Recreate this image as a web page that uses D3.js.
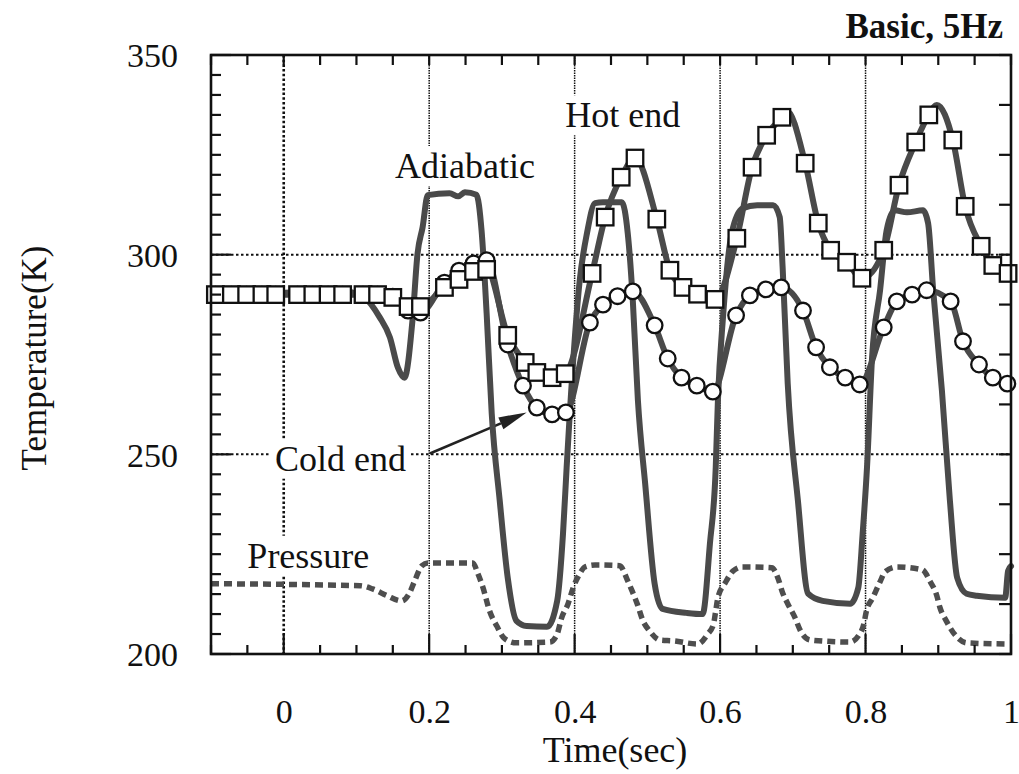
<!DOCTYPE html>
<html><head><meta charset="utf-8">
<script src="https://cdn.jsdelivr.net/npm/d3@7"></script>
<style>
body{margin:0;background:#fff}
svg{display:block}
text{font-family:"Liberation Serif","Times New Roman",serif;fill:#111}
</style>
</head><body>
<svg id="c" width="1019" height="774"></svg>
<script>
// ---------- data ----------
const xTicks = [0, 0.2, 0.4, 0.6, 0.8, 1];
const yTicks = [200, 250, 300, 350];
const xGrid = [0, 0.2, 0.4, 0.6, 0.8];
const yGrid = [250, 300];

const adiabaticT = [-0.1,-0.047,0.022,0.04,0.07,0.098,0.109,0.132,0.146,0.157,0.166,0.177,0.184,0.191,0.198,0.228,0.240,0.249,0.265,0.272,0.279,0.286,0.297,0.308,0.320,0.334,0.362,0.376,0.384,0.389,0.393,0.407,0.417,0.428,0.439,0.465,0.473,0.480,0.487,0.497,0.510,0.521,0.554,0.576,0.586,0.594,0.597,0.604,0.616,0.631,0.651,0.673,0.682,0.686,0.693,0.707,0.721,0.741,0.779,0.790,0.796,0.802,0.809,0.820,0.829,0.840,0.857,0.879,0.886,0.893,0.905,0.916,0.926,0.939,0.953,0.992,0.996,1.0];
const adiabaticV = [290.3,290.3,290.6,291.4,291.4,290.3,289.6,284.3,279.3,271.7,269.2,283.5,300.3,306.9,314.9,315.4,314.6,315.6,315.0,306.1,285.3,260.2,238.4,219.1,208.3,207.0,206.8,213.3,230.1,246.7,259.2,293.6,305.4,312.9,313.1,313.1,305.4,288.5,263.5,242.6,217.6,211.3,210.3,210.0,227.6,246.7,263.5,284.3,305.4,311.6,312.4,312.4,309.4,296.8,267.7,238.4,215.1,213.3,212.6,216.6,230.1,246.7,274.3,291.1,306.1,311.1,310.6,311.1,307.9,291.1,266.0,238.4,219.1,215.1,214.6,214.1,220.8,222.0];

const hotT = [-0.094,-0.072,-0.051,-0.030,-0.011,0.019,0.040,0.061,0.081,0.109,0.129,0.150,0.171,0.188,0.221,0.241,0.261,0.279,0.308,0.332,0.348,0.369,0.387,0.424,0.442,0.464,0.483,0.513,0.531,0.549,0.569,0.593,0.623,0.644,0.664,0.685,0.717,0.735,0.752,0.774,0.795,0.825,0.846,0.869,0.887,0.920,0.937,0.959,0.975,0.996];
const hotV = [290,290,290,290,290,290,290,290,290,290,290,289.3,287.0,287.0,291.8,293.8,295.8,296.3,279.8,273.0,270.5,269.2,270.2,295.3,309.4,319.4,324.2,308.9,296.1,291.8,290.1,288.8,304.1,321.9,329.9,334.4,322.9,307.9,301.1,298.1,294.1,301.1,317.4,328.2,335.0,328.7,312.1,302.1,297.3,295.3];
// extra line-only points of the hot end curve (peaks, ends)
const hotLineT = [-0.1, 0.692, 0.898, 1.0];
const hotLineV = [290, 336.0, 337.5, 295.0];

const coldT = [-0.094,-0.072,-0.051,-0.030,-0.011,0.019,0.040,0.061,0.081,0.109,0.129,0.150,0.171,0.188,0.221,0.241,0.261,0.279,0.308,0.329,0.348,0.369,0.388,0.421,0.439,0.459,0.480,0.510,0.528,0.547,0.568,0.590,0.622,0.641,0.663,0.684,0.714,0.732,0.751,0.772,0.792,0.825,0.843,0.864,0.884,0.917,0.934,0.956,0.975,0.995];
const coldV = [290,290,290,290,290,290,290,290,290,290,290,289.5,286.0,285.5,293.0,296.0,297.8,298.6,277.5,267.2,261.7,260.0,260.5,283.0,287.5,289.6,290.8,282.3,274.0,269.2,267.2,265.7,284.8,289.8,291.3,291.8,286.0,276.8,271.8,269.2,267.5,281.8,288.3,290.0,291.1,288.3,278.3,272.5,269.2,267.7];
const coldLineT = [-0.1, 1.0];
const coldLineV = [290, 267.5];

const pressT = [-0.1,0.105,0.122,0.142,0.162,0.173,0.180,0.190,0.198,0.260,0.267,0.274,0.283,0.293,0.304,0.320,0.366,0.376,0.382,0.391,0.398,0.407,0.414,0.428,0.462,0.473,0.479,0.486,0.494,0.503,0.517,0.535,0.569,0.583,0.591,0.594,0.597,0.607,0.618,0.631,0.671,0.680,0.686,0.693,0.703,0.710,0.724,0.779,0.790,0.798,0.801,0.810,0.820,0.827,0.843,0.878,0.889,0.898,0.902,0.911,0.923,0.939,0.995];
const pressV = [217.6,217.1,216.3,214.6,213.3,215.3,218.3,222.1,222.8,222.8,220.1,216.6,210.8,207.0,203.8,202.8,203.0,205.0,209.0,212.6,216.6,220.1,221.8,222.3,222.1,218.3,215.8,212.6,208.3,205.8,203.5,203.3,202.5,205.0,207.5,210.8,214.1,217.8,220.8,221.8,221.6,218.8,215.3,212.6,209.1,206.0,203.5,203.0,204.5,207.8,210.6,214.1,218.1,220.6,221.8,221.1,218.1,214.6,211.8,208.3,204.8,202.8,202.5];

const labels = [
  {text:"Adiabatic", t:0.153, v:319.2},
  {text:"Hot end",   t:0.387, v:331.9},
  {text:"Cold end",  t:-0.012, v:245.9},
  {text:"Pressure",  t:-0.050, v:221.6}
];
const arrowFrom = [0.201, 250.2], arrowTo = [0.334, 260.5];

// ---------- layout ----------
const svg = d3.select("#c");
const L = 211, R = 1011, T = 55, B = 654;
const x = d3.scaleLinear().domain([-0.1, 1.0]).range([L, R]);
const y = d3.scaleLinear().domain([200, 350]).range([B, T]);
const zip = (a, b) => a.map((d, i) => [d, b[i]]);
const sortPts = p => p.sort((a, b) => a[0] - b[0]);

// gridlines
svg.append("g").selectAll("line").data(xGrid).join("line")
  .attr("x1", d => x(d)).attr("x2", d => x(d)).attr("y1", T).attr("y2", B)
  .attr("stroke", "#111")
  .attr("stroke-width", d => d === 0 ? 2.6 : 1.5)
  .attr("stroke-dasharray", d => d === 0 ? "2.5,2.2" : "1.5,1");
svg.append("g").selectAll("line").data(yGrid).join("line")
  .attr("x1", L).attr("x2", R).attr("y1", d => y(d)).attr("y2", d => y(d))
  .attr("stroke", "#111").attr("stroke-width", 2).attr("stroke-dasharray", "2.5,2.5");

// annotation labels with white backgrounds
const ann = svg.append("g");
labels.forEach(l => {
  const g = ann.append("g");
  const t = g.append("text").attr("x", x(l.t)).attr("y", y(l.v))
    .attr("font-size", 36).text(l.text);
  const bb = t.node().getBBox();
  g.insert("rect", "text").attr("x", bb.x - 4).attr("y", bb.y).attr("width", bb.width + 9)
    .attr("height", bb.height).attr("fill", "#fff");
});

// arrow
{
  const x1 = x(arrowFrom[0]), y1 = y(arrowFrom[1]), x2 = x(arrowTo[0]), y2 = y(arrowTo[1]);
  const ang = Math.atan2(y2 - y1, x2 - x1), len = 28, hw = 6.5;
  const bx = x2 - len * Math.cos(ang), by = y2 - len * Math.sin(ang);
  svg.append("line").attr("x1", x1).attr("y1", y1).attr("x2", bx).attr("y2", by)
    .attr("stroke", "#222").attr("stroke-width", 2.6);
  const px = -Math.sin(ang) * hw, py = Math.cos(ang) * hw;
  svg.append("path").attr("d", `M${x2},${y2}L${bx + px},${by + py}L${bx - px},${by - py}Z`).attr("fill", "#222");
}

// data lines
const line = d3.line().x(d => x(d[0])).y(d => y(d[1])).curve(d3.curveMonotoneX);
const lineStyle = sel => sel.attr("fill", "none").attr("stroke", "#4a4a4a")
  .attr("stroke-width", 6).attr("stroke-linejoin", "round").attr("stroke-linecap", "round");

svg.append("path").datum(zip(pressT, pressV)).attr("d", line)
  .attr("fill", "none").attr("stroke", "#4e4e4e").attr("stroke-width", 5.5)
  .attr("stroke-dasharray", "8,5");
svg.append("path").datum(zip(adiabaticT, adiabaticV)).attr("d", line).call(lineStyle);
svg.append("path").datum(sortPts(zip(hotT, hotV).concat(zip(hotLineT, hotLineV)))).attr("d", line).call(lineStyle);
svg.append("path").datum(sortPts(zip(coldT, coldV).concat(zip(coldLineT, coldLineV)))).attr("d", line).call(lineStyle);

// markers
svg.append("g").selectAll("circle").data(zip(coldT, coldV)).join("circle")
  .attr("cx", d => x(d[0])).attr("cy", d => y(d[1])).attr("r", 7.8)
  .attr("fill", "#fff").attr("stroke", "#111").attr("stroke-width", 2.3);
const s = 16.5;
svg.append("g").selectAll("rect").data(zip(hotT, hotV)).join("rect")
  .attr("x", d => x(d[0]) - s / 2).attr("y", d => y(d[1]) - s / 2).attr("width", s).attr("height", s)
  .attr("fill", "#fff").attr("stroke", "#111").attr("stroke-width", 2.3);

// frame
svg.append("rect").attr("x", L).attr("y", T).attr("width", R - L).attr("height", B - T)
  .attr("fill", "none").attr("stroke", "#111").attr("stroke-width", 2.6);

// ticks
const xMinor = d3.range(-2, 21).map(i => +(i * 0.05).toFixed(2));
const yMinor = d3.range(0, 31).map(i => 200 + i * 5);
const yRight = d3.range(0, 13).map(i => 200 + i * 12.5);
const isMajorX = d => Math.abs(d / 0.2 - Math.round(d / 0.2)) < 1e-6;
const tk = svg.append("g").attr("stroke", "#111").attr("stroke-width", 2.2);
tk.selectAll(".xb").data(xMinor).join("line")
  .attr("x1", d => x(d)).attr("x2", d => x(d)).attr("y1", B).attr("y2", d => B - (isMajorX(d) ? 20 : 9));
tk.selectAll(".xt").data(xMinor).join("line")
  .attr("x1", d => x(d)).attr("x2", d => x(d)).attr("y1", T).attr("y2", T + 10);
tk.selectAll(".yl").data(yMinor).join("line")
  .attr("x1", L).attr("x2", d => L + (d % 50 === 0 ? 20 : 10)).attr("y1", d => y(d)).attr("y2", d => y(d));
tk.selectAll(".yr").data(yRight).join("line")
  .attr("x1", R).attr("x2", R - 12).attr("y1", d => y(d)).attr("y2", d => y(d));

// tick labels via axes
const xAxis = svg.append("g").attr("transform", `translate(0,${B})`)
  .call(d3.axisBottom(x).tickValues(xTicks).tickSize(0).tickFormat(d3.format("~g")));
xAxis.select(".domain").remove();
xAxis.selectAll("text").attr("y", 69).attr("dy", 0).attr("font-size", 34)
  .attr("font-family", "Liberation Serif, serif").attr("fill", "#111");
const yAxis = svg.append("g").attr("transform", `translate(${L},0)`)
  .call(d3.axisLeft(y).tickValues(yTicks).tickSize(0));
yAxis.select(".domain").remove();
yAxis.selectAll("text").attr("x", -33).attr("dy", "0.35em").attr("font-size", 34)
  .attr("font-family", "Liberation Serif, serif").attr("fill", "#111");

// titles
svg.append("text").attr("x", 615).attr("y", 762).attr("text-anchor", "middle")
  .attr("font-size", 36).text("Time(sec)");
svg.append("text").attr("transform", "translate(46,358) rotate(-90)").attr("text-anchor", "middle")
  .attr("font-size", 35).text("Temperature(K)");
svg.append("text").attr("x", 1003).attr("y", 38).attr("text-anchor", "end")
  .attr("font-size", 35).attr("font-weight", "bold").text("Basic, 5Hz");
</script>
</body></html>
